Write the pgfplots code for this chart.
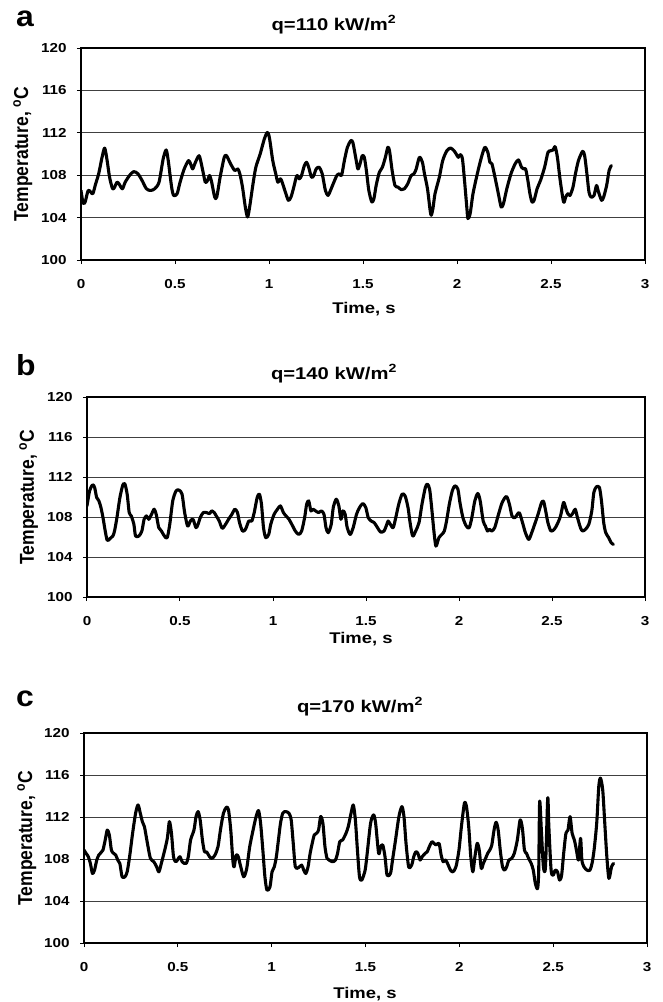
\documentclass[border=0pt]{standalone}
\usepackage{fontspec}
\setmainfont{Liberation Sans}
\usepackage{graphicx}
\usepackage{pgfplots}
\pgfplotsset{compat=1.18}

\pgfplotsset{panel/.style={
  scale only axis, anchor=south west,
  xmin=0, xmax=3, ymin=100, ymax=120,
  xtick={0,0.5,1,1.5,2,2.5,3}, xticklabels={0,0.5,1,1.5,2,2.5,3},
  ytick={100,104,108,112,116,120}, yticklabels={100,104,108,112,116,120},
  tick align=outside, xtick pos=bottom, ytick pos=left,
  major tick length=4pt,
  ymajorgrids, grid style={black!75, line width=0.9pt},
  axis line style={black, line width=1.3pt},
  every tick/.style={black, line width=1pt},
  tick label style={font=\fontsize{13}{15}\selectfont\bfseries, xscale=1.17},
  xticklabel style={inner sep=0pt, anchor=north, yshift=-15.3pt},
  yticklabel style={inner sep=0pt, anchor=east, xshift=-8.7pt},
}}
\tikzset{curve/.style={black, line width=3.1pt, smooth, tension=0.45, line join=round, line cap=round}}
\newcommand{\ttl}{\fontsize{17}{19}\selectfont\bfseries}
\newcommand{\lbl}{\fontsize{15.5}{17}\selectfont\bfseries}
\newcommand{\ylbl}{\fontsize{17.5}{19}\selectfont\bfseries}
\newcommand{\pan}{\fontsize{29}{31}\selectfont\bfseries}

\begin{document}
\begin{tikzpicture}
\useasboundingbox (0pt,-1002pt) rectangle (662pt,0pt);

% ---------- panel a ----------
\begin{axis}[panel, at={(81pt,-260pt)}, width=564pt, height=212pt]
\addplot[curve] coordinates {
(0,106.56)(0.011,105.38)(0.022,105.47)(0.038,106.56)(0.052,106.41)(0.063,106.25)(0.078,107.19)(0.094,108.13)(0.112,109.69)(0.126,110.56)(0.139,109.38)(0.152,107.81)(0.168,106.72)(0.179,106.88)(0.191,107.34)(0.202,107.19)(0.220,106.72)(0.235,107.34)(0.258,107.97)(0.280,108.34)(0.303,108.13)(0.325,107.50)(0.348,106.72)(0.370,106.56)(0.392,106.72)(0.415,107.34)(0.437,109.53)(0.453,110.38)(0.464,109.38)(0.482,106.88)(0.493,106.09)(0.511,106.25)(0.527,107.34)(0.549,108.59)(0.572,109.38)(0.583,109.06)(0.594,108.59)(0.605,109.06)(0.628,109.84)(0.644,108.75)(0.661,107.34)(0.673,107.50)(0.684,107.97)(0.695,107.34)(0.711,105.94)(0.722,105.94)(0.740,107.81)(0.762,109.69)(0.774,109.84)(0.796,109.06)(0.818,108.44)(0.834,108.59)(0.845,108.13)(0.859,106.88)(0.874,105.00)(0.886,104.06)(0.897,105.00)(0.915,107.19)(0.930,108.75)(0.953,110.00)(0.975,111.41)(0.991,112.03)(1.002,111.56)(1.020,109.38)(1.036,108.13)(1.047,107.34)(1.061,107.66)(1.070,107.34)(1.087,106.41)(1.103,105.63)(1.117,105.94)(1.132,106.88)(1.148,107.97)(1.161,107.66)(1.173,107.97)(1.188,108.91)(1.200,109.22)(1.211,108.75)(1.226,107.81)(1.238,107.97)(1.251,108.59)(1.267,108.75)(1.283,108.13)(1.300,106.56)(1.314,106.09)(1.327,106.56)(1.345,107.34)(1.361,107.97)(1.374,108.13)(1.386,107.97)(1.401,109.38)(1.417,110.63)(1.435,111.25)(1.446,111.09)(1.464,109.38)(1.473,108.59)(1.484,109.06)(1.496,109.84)(1.507,109.69)(1.518,108.44)(1.531,106.56)(1.547,105.47)(1.558,105.78)(1.570,107.03)(1.587,108.28)(1.603,108.75)(1.619,109.69)(1.632,110.63)(1.641,110.31)(1.655,108.44)(1.670,107.03)(1.686,106.88)(1.704,106.63)(1.720,106.72)(1.738,107.19)(1.756,107.97)(1.771,108.13)(1.783,108.59)(1.800,109.69)(1.816,109.22)(1.827,108.13)(1.843,106.72)(1.857,104.69)(1.863,104.22)(1.872,104.84)(1.883,106.25)(1.906,107.81)(1.924,109.38)(1.946,110.31)(1.966,110.56)(1.984,110.31)(1.996,110.00)(2.007,109.69)(2.018,109.94)(2.029,109.53)(2.040,107.50)(2.052,105.00)(2.058,103.91)(2.070,104.38)(2.085,106.25)(2.108,108.13)(2.130,109.69)(2.148,110.63)(2.164,110.16)(2.175,109.22)(2.186,109.06)(2.202,107.81)(2.220,106.25)(2.235,105.00)(2.247,105.31)(2.265,106.72)(2.287,108.13)(2.309,109.06)(2.327,109.44)(2.343,108.75)(2.354,108.59)(2.365,108.59)(2.377,107.50)(2.388,106.25)(2.399,105.47)(2.410,105.63)(2.426,106.72)(2.444,107.50)(2.466,108.75)(2.484,110.16)(2.500,110.31)(2.511,110.38)(2.522,110.69)(2.534,109.69)(2.549,107.50)(2.567,105.47)(2.578,105.94)(2.590,106.25)(2.601,106.09)(2.617,106.88)(2.630,108.13)(2.646,109.38)(2.668,110.25)(2.679,109.84)(2.691,108.13)(2.702,106.41)(2.713,105.94)(2.729,106.09)(2.742,107.03)(2.753,106.41)(2.769,105.63)(2.780,105.94)(2.796,107.03)(2.809,108.44)(2.821,108.91)
};
\end{axis}

% ---------- panel b ----------
\begin{axis}[panel, at={(87pt,-597pt)}, width=558pt, height=200pt]
\addplot[curve] coordinates {
(0,109.11)(0.014,110.62)(0.030,111.22)(0.041,110.95)(0.052,109.95)(0.064,109.61)(0.075,108.94)(0.086,107.94)(0.098,106.60)(0.109,105.66)(0.125,105.86)(0.139,106.10)(0.148,106.60)(0.161,107.94)(0.177,109.95)(0.193,111.22)(0.204,111.29)(0.216,110.28)(0.227,108.44)(0.238,108.11)(0.252,107.27)(0.261,106.10)(0.279,106.10)(0.295,106.60)(0.307,107.77)(0.320,108.11)(0.332,107.77)(0.347,108.27)(0.361,108.78)(0.372,108.27)(0.386,106.93)(0.400,106.60)(0.416,106.10)(0.431,105.93)(0.445,107.27)(0.461,109.61)(0.479,110.62)(0.495,110.69)(0.511,110.28)(0.525,108.44)(0.541,107.10)(0.556,107.60)(0.570,107.77)(0.586,106.93)(0.597,107.27)(0.609,107.94)(0.625,108.44)(0.643,108.44)(0.659,108.34)(0.670,108.61)(0.684,108.44)(0.695,108.11)(0.711,107.60)(0.727,106.87)(0.745,107.27)(0.761,107.77)(0.779,108.27)(0.795,108.78)(0.809,108.44)(0.820,107.44)(0.836,106.60)(0.852,106.77)(0.870,107.60)(0.886,107.60)(0.899,108.44)(0.915,109.95)(0.927,110.28)(0.938,109.28)(0.949,106.93)(0.961,105.93)(0.977,106.26)(0.988,107.27)(1.006,108.27)(1.024,108.78)(1.040,109.11)(1.056,108.44)(1.070,108.11)(1.086,107.77)(1.101,107.27)(1.120,106.60)(1.138,106.26)(1.154,106.60)(1.170,107.94)(1.181,109.28)(1.192,109.61)(1.204,108.61)(1.215,108.78)(1.229,108.61)(1.245,108.44)(1.260,108.61)(1.274,108.27)(1.285,106.93)(1.297,106.43)(1.313,107.27)(1.324,108.94)(1.340,109.78)(1.354,109.11)(1.365,107.77)(1.376,108.61)(1.388,108.27)(1.399,106.93)(1.415,106.26)(1.431,106.93)(1.449,108.27)(1.465,108.94)(1.483,109.35)(1.499,108.94)(1.512,107.94)(1.528,107.60)(1.544,107.44)(1.562,106.93)(1.578,106.50)(1.597,106.60)(1.612,107.27)(1.619,107.60)(1.631,107.27)(1.646,106.93)(1.660,107.94)(1.676,109.28)(1.694,110.28)(1.710,110.12)(1.726,108.94)(1.737,107.44)(1.751,106.10)(1.767,106.60)(1.785,107.44)(1.801,109.28)(1.819,110.95)(1.830,111.29)(1.842,110.79)(1.853,108.94)(1.865,106.60)(1.876,105.09)(1.892,105.93)(1.908,106.26)(1.921,106.60)(1.933,107.60)(1.948,109.28)(1.964,110.62)(1.978,111.12)(1.994,110.79)(2.005,109.45)(2.021,107.94)(2.039,107.10)(2.055,106.93)(2.069,107.94)(2.085,109.61)(2.101,110.35)(2.114,109.61)(2.130,107.60)(2.142,107.10)(2.153,106.60)(2.164,106.77)(2.176,106.60)(2.192,106.93)(2.210,108.11)(2.232,109.45)(2.255,110.05)(2.271,109.28)(2.285,108.11)(2.301,107.94)(2.323,108.44)(2.339,107.60)(2.357,106.43)(2.375,105.76)(2.391,106.43)(2.410,107.44)(2.425,108.27)(2.444,109.45)(2.455,109.55)(2.466,108.61)(2.478,107.44)(2.494,106.60)(2.512,106.77)(2.528,107.27)(2.546,108.11)(2.562,109.45)(2.573,108.94)(2.585,108.34)(2.600,108.11)(2.614,108.44)(2.625,108.78)(2.637,107.94)(2.653,106.93)(2.664,106.60)(2.680,106.77)(2.698,107.27)(2.714,108.61)(2.725,110.45)(2.739,111.02)(2.755,110.95)(2.766,109.61)(2.778,107.44)(2.789,106.43)(2.805,105.93)(2.818,105.43)(2.830,105.26)
};
\end{axis}

% ---------- panel c ----------
\begin{axis}[panel, at={(84pt,-943pt)}, width=563pt, height=210pt]
\addplot[curve] coordinates {
(0.000,108.85)(0.011,108.54)(0.023,108.22)(0.034,107.58)(0.045,106.62)(0.056,106.94)(0.068,107.90)(0.079,108.38)(0.090,108.60)(0.101,108.85)(0.113,109.81)(0.124,110.76)(0.135,110.29)(0.146,108.85)(0.158,108.54)(0.169,108.38)(0.180,107.90)(0.191,107.58)(0.203,106.31)(0.218,106.31)(0.230,106.78)(0.243,108.22)(0.259,110.45)(0.275,112.36)(0.288,113.15)(0.300,112.36)(0.311,111.56)(0.322,111.08)(0.338,109.49)(0.354,108.06)(0.372,107.74)(0.387,107.26)(0.399,106.78)(0.412,107.58)(0.428,108.69)(0.444,109.97)(0.455,111.56)(0.466,110.45)(0.477,108.22)(0.489,107.74)(0.500,107.96)(0.511,108.22)(0.523,107.74)(0.534,107.58)(0.545,107.58)(0.556,108.22)(0.568,109.81)(0.586,110.76)(0.597,112.04)(0.608,112.52)(0.619,111.72)(0.631,109.81)(0.642,108.69)(0.653,108.69)(0.669,108.22)(0.682,108.06)(0.698,108.38)(0.714,109.17)(0.727,110.76)(0.743,112.36)(0.759,112.93)(0.770,112.68)(0.782,110.76)(0.793,107.90)(0.800,107.26)(0.811,108.38)(0.822,108.22)(0.833,107.42)(0.851,106.31)(0.867,107.10)(0.883,109.17)(0.901,110.76)(0.917,112.04)(0.930,112.61)(0.941,111.40)(0.953,108.85)(0.964,106.31)(0.975,105.03)(0.991,105.35)(1.002,106.78)(1.014,107.26)(1.025,108.22)(1.036,109.81)(1.047,111.40)(1.059,112.36)(1.074,112.52)(1.092,112.36)(1.104,111.72)(1.115,109.49)(1.126,107.26)(1.142,107.17)(1.160,107.42)(1.171,106.94)(1.182,106.62)(1.194,107.26)(1.205,108.54)(1.216,109.49)(1.227,110.29)(1.239,110.45)(1.250,110.76)(1.261,112.04)(1.273,111.40)(1.284,109.17)(1.295,108.06)(1.306,107.90)(1.324,107.74)(1.340,107.90)(1.351,108.54)(1.363,109.65)(1.378,109.81)(1.396,110.45)(1.408,111.08)(1.423,112.36)(1.435,113.15)(1.446,111.72)(1.457,108.85)(1.468,106.31)(1.480,105.99)(1.498,106.94)(1.509,108.54)(1.527,111.40)(1.543,112.20)(1.554,111.40)(1.570,108.54)(1.581,109.17)(1.592,109.33)(1.604,108.22)(1.615,106.46)(1.633,106.62)(1.644,107.90)(1.660,109.81)(1.678,112.04)(1.694,112.99)(1.705,112.04)(1.716,109.49)(1.730,107.26)(1.746,107.42)(1.757,108.22)(1.768,108.69)(1.779,108.54)(1.791,107.90)(1.802,108.22)(1.818,108.54)(1.829,108.69)(1.840,109.17)(1.854,109.65)(1.865,109.49)(1.876,109.33)(1.892,109.49)(1.903,108.38)(1.914,107.74)(1.926,107.90)(1.937,107.58)(1.953,106.94)(1.966,106.78)(1.982,107.26)(1.998,108.85)(2.011,111.08)(2.027,113.31)(2.038,112.99)(2.050,111.08)(2.061,108.22)(2.072,106.78)(2.083,108.22)(2.095,109.49)(2.106,108.85)(2.117,107.10)(2.128,107.58)(2.140,108.06)(2.151,108.54)(2.162,108.85)(2.173,109.33)(2.185,110.76)(2.196,111.50)(2.207,110.76)(2.218,108.85)(2.230,107.26)(2.241,106.94)(2.252,107.26)(2.264,107.90)(2.279,108.06)(2.293,108.54)(2.309,109.81)(2.324,111.72)(2.336,110.92)(2.347,108.85)(2.358,108.54)(2.369,108.06)(2.383,107.58)(2.394,106.94)(2.405,105.67)(2.417,105.19)(2.423,106.94)(2.428,113.47)(2.437,110.76)(2.448,107.26)(2.459,107.26)(2.471,113.79)(2.477,111.08)(2.489,106.94)(2.500,106.46)(2.511,106.94)(2.523,106.78)(2.534,105.99)(2.545,106.46)(2.556,108.54)(2.568,110.45)(2.579,110.76)(2.590,112.04)(2.601,110.45)(2.613,109.81)(2.624,108.85)(2.635,107.90)(2.646,109.97)(2.653,107.90)(2.664,107.26)(2.680,106.94)(2.696,106.94)(2.707,107.58)(2.718,108.85)(2.732,111.40)(2.743,114.90)(2.752,115.70)(2.764,114.59)(2.775,111.40)(2.786,108.22)(2.797,106.15)(2.811,107.26)(2.822,107.58)
};
\end{axis}

% ---------- texts ----------
\node[anchor=base west, font=\pan, xscale=1.1, inner sep=0pt] at (16pt,-26pt) {a};
\node[anchor=base west, font=\pan, xscale=1.1, inner sep=0pt] at (16pt,-375pt) {b};
\node[anchor=base west, font=\pan, xscale=1.1, inner sep=0pt] at (16pt,-706pt) {c};

\node[anchor=base, font=\ttl, xscale=1.19, inner sep=0pt] at (334pt,-30pt) {q=110 kW/m\textsuperscript{2}};
\node[anchor=base, font=\ttl, xscale=1.19, inner sep=0pt] at (334pt,-379pt) {q=140 kW/m\textsuperscript{2}};
\node[anchor=base, font=\ttl, xscale=1.19, inner sep=0pt] at (360pt,-712pt) {q=170 kW/m\textsuperscript{2}};

\node[anchor=base, font=\lbl, xscale=1.19, inner sep=0pt] at (364pt,-313pt) {Time, s};
\node[anchor=base, font=\lbl, xscale=1.19, inner sep=0pt] at (361pt,-643pt) {Time, s};
\node[anchor=base, font=\lbl, xscale=1.19, inner sep=0pt] at (365pt,-998pt) {Time, s};

\node[anchor=base, rotate=90, font=\ylbl, inner sep=0pt] at (28pt,-154pt) {\scalebox{1}[1.15]{Temperature, \textsuperscript{o}C}};
\node[anchor=base, rotate=90, font=\ylbl, inner sep=0pt] at (34pt,-497pt) {\scalebox{1}[1.15]{Temperature, \textsuperscript{o}C}};
\node[anchor=base, rotate=90, font=\ylbl, inner sep=0pt] at (32pt,-838pt) {\scalebox{1}[1.15]{Temperature, \textsuperscript{o}C}};
\end{tikzpicture}
\end{document}
